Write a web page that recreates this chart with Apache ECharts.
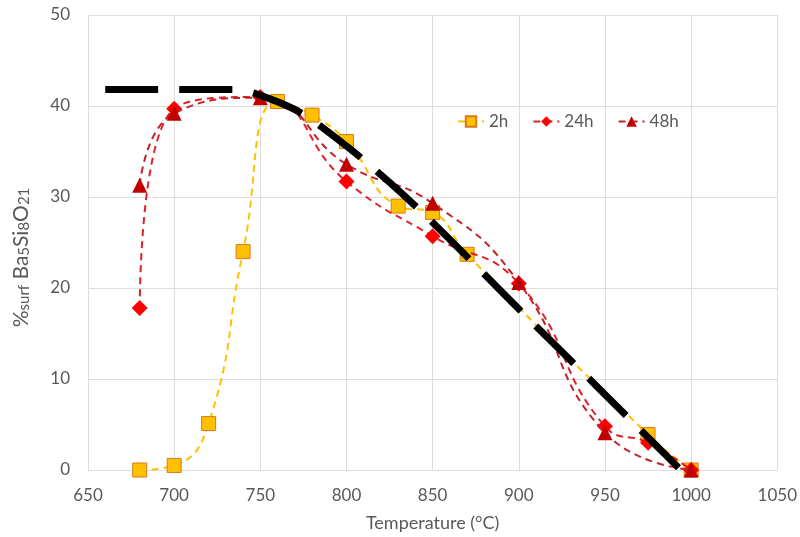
<!DOCTYPE html>
<html>
<head>
<meta charset="utf-8">
<script src="https://cdn.jsdelivr.net/npm/echarts@6/dist/echarts.min.js"></script>
<style>html,body{margin:0;padding:0;background:#fff}#c{width:800px;height:537px}</style>
</head>
<body>
<div id="c"></div>
<script>
var temps2h = [680, 700, 720, 740, 760, 780, 800, 830, 850, 870, 975, 1000];
var vals2h = [0, 0.5, 5.1, 24, 40.5, 39, 36.1, 29, 28.3, 23.7, 3.9, 0];
var temps24h = [680, 700, 750, 800, 850, 900, 950, 975, 1000];
var vals24h = [17.8, 39.7, 41, 31.7, 25.7, 20.5, 4.8, 3.0, 0];
var temps48h = [680, 700, 750, 800, 850, 900, 950, 1000];
var vals48h = [31.3, 39.2, 40.9, 33.6, 29.3, 20.6, 4.1, 0];
var trendT = [660, 735, 748, 773, 800, 825, 850, 900, 950, 994];
var trendV = [41.8, 41.8, 41.3, 39.3, 35.6, 31.6, 27.2, 17.7, 8.3, 0];
var seriesNames = ['2h', '24h', '48h'];

function pairs(t, v) { return t.map(function (x, i) { return [x, v[i]]; }); }

var FONT = 'Lato';
var TXT = '#595959';
var chart = echarts.init(document.getElementById('c'), null, { renderer: 'canvas' });
chart.setOption({
  animation: false,
  backgroundColor: '#fff',
  grid: { left: 88, right: 22, top: 15, bottom: 65.5 },
  legend: {
    data: seriesNames,
    left: 452, top: 108,
    itemWidth: 26, itemHeight: 13, itemGap: 24,
    textStyle: { fontFamily: FONT, fontSize: 17, color: TXT }
  },
  xAxis: {
    type: 'value', min: 650, max: 1050, interval: 50,
    name: 'Temperature (°C)', nameLocation: 'middle', nameGap: 44,
    nameTextStyle: { fontFamily: FONT, fontSize: 18, color: TXT },
    axisLine: { show: false }, axisTick: { show: false },
    axisLabel: { fontFamily: FONT, fontSize: 17, color: TXT, margin: 17,
      formatter: function (v) { return String(v); } },
    splitLine: { show: true, lineStyle: { color: '#DDDDDD', width: 1 } }
  },
  yAxis: {
    type: 'value', min: 0, max: 50, interval: 10,
    name: '{a|%}{s|surf}{a| Ba}{s|5}{a|Si}{s|8}{a|O}{s|21}',
    nameLocation: 'middle', nameGap: 56, nameRotate: 90,
    nameTextStyle: {
      fontFamily: FONT, fontSize: 21, color: TXT, padding: [0, 30, 0, 0],
      rich: {
        a: { fontFamily: FONT, fontSize: 21, color: TXT, verticalAlign: 'bottom', lineHeight: 24 },
        s: { fontFamily: FONT, fontSize: 15, color: TXT, verticalAlign: 'bottom', lineHeight: 17 }
      }
    },
    axisLine: { show: false }, axisTick: { show: false },
    axisLabel: { fontFamily: FONT, fontSize: 17, color: TXT, margin: 18 },
    splitLine: { show: true, lineStyle: { color: '#DDDDDD', width: 1 } }
  },
  series: [
    {
      name: '2h', type: 'line', smooth: 0.5, data: pairs(temps2h, vals2h),
      symbol: 'rect', symbolSize: 14,
      itemStyle: { color: '#FFC000', borderColor: '#D97A1A', borderWidth: 1 },
      lineStyle: { color: '#FFC000', width: 2, type: [7, 5] }, z: 2
    },
    {
      name: '24h', type: 'line', smooth: 0.5, data: pairs(temps24h, vals24h),
      symbol: 'diamond', symbolSize: 16,
      itemStyle: { color: '#FF0000' },
      lineStyle: { color: '#E0202A', width: 2, type: [7, 5] }, z: 3
    },
    {
      name: '48h', type: 'line', smooth: 0.5, data: pairs(temps48h, vals48h),
      symbol: 'triangle', symbolSize: 15,
      itemStyle: { color: '#C00000' },
      lineStyle: { color: '#C0232A', width: 2, type: [7, 5] }, z: 4
    },
    {
      name: 'trend', type: 'line', smooth: 0.3, data: pairs(trendT, trendV),
      symbol: 'none', silent: true,
      lineStyle: { color: '#000000', width: 7, type: [53, 21], cap: 'butt' }, z: 5
    }
  ]
});
</script>
</body>
</html>
